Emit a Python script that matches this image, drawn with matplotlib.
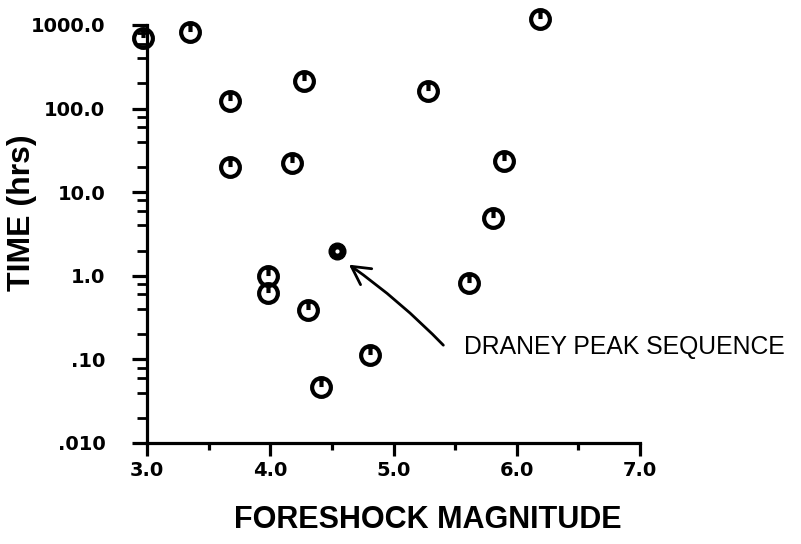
import matplotlib
matplotlib.use("Agg")
import matplotlib.pyplot as plt
from matplotlib.path import Path
from matplotlib.ticker import FixedLocator, NullFormatter

# ---- data ----
magnitude = [2.97, 3.35, 3.67, 3.67, 4.27, 4.18, 3.98, 3.98, 4.31,
             4.81, 4.41, 6.19, 5.28, 5.90, 5.81, 5.61]
time_hrs = [695, 830, 123, 20, 214, 22.4, 1.0, 0.62, 0.39,
            0.113, 0.047, 1180, 162, 23.6, 4.9, 0.82]
draney_mag = [4.54]
draney_time = [2.0]

x_ticks = [3.0, 4.0, 5.0, 6.0, 7.0]
x_ticklabels = ["3.0", "4.0", "5.0", "6.0", "7.0"]
x_minor = [3.5, 4.5, 5.5, 6.5]
y_ticks = [0.01, 0.1, 1.0, 10.0, 100.0, 1000.0]
y_ticklabels = [".010", ".10", "1.0", "10.0", "100.0", "1000.0"]
y_minor = [m * d for d in [0.01, 0.1, 1, 10, 100] for m in (2, 4, 6, 8)]

xlabel = "FORESHOCK MAGNITUDE"
ylabel = "TIME (hrs)"
annotation = "DRANEY PEAK SEQUENCE"

# ---- figure ----
fig = plt.figure(figsize=(8.01, 5.44), dpi=100)
L, R = 147 / 801, 640 / 801
B, T = 1 - 443 / 544, 1 - 25 / 544
ax = fig.add_axes([L, B, R - L, T - B])

ax.set_yscale("log")
ax.set_xlim(3.0, 7.0)
ax.set_ylim(0.01, 1000)

for s in ("top", "right"):
    ax.spines[s].set_visible(False)
for s in ("left", "bottom"):
    ax.spines[s].set_linewidth(2.3)

ax.xaxis.set_major_locator(FixedLocator(x_ticks))
ax.set_xticklabels(x_ticklabels)
ax.xaxis.set_minor_locator(FixedLocator(x_minor))
ax.yaxis.set_major_locator(FixedLocator(y_ticks))
ax.set_yticklabels(y_ticklabels)
ax.yaxis.set_minor_locator(FixedLocator(y_minor))
ax.yaxis.set_minor_formatter(NullFormatter())

ax.tick_params(axis="x", which="major", length=9, width=2.3, direction="out", pad=4)
ax.tick_params(axis="x", which="minor", length=5, width=2.3, direction="out")
ax.tick_params(axis="y", which="major", length=11, width=2.3, direction="out", pad=19)
ax.tick_params(axis="y", which="minor", length=7, width=2.0, direction="out")
for lab in ax.get_xticklabels() + ax.get_yticklabels():
    lab.set_fontfamily("DejaVu Sans")
    lab.set_fontweight("bold")
    lab.set_fontsize(14)

# marker: ring with a stem from the top into the centre
marker_path = Path.make_compound_path(
    Path.unit_circle(),
    Path([(0, 1.0), (0, 0.05)], [Path.MOVETO, Path.LINETO]),
)
ax.plot(magnitude, time_hrs, linestyle="none", marker=marker_path,
        markersize=13.5, markerfacecolor="none", markeredgecolor="black",
        markeredgewidth=3.0, clip_on=False, zorder=3)
ax.plot(draney_mag, draney_time, linestyle="none", marker="o",
        markersize=12, markerfacecolor="black", markeredgecolor="black",
        clip_on=False, zorder=3)
ax.plot(draney_mag, draney_time, linestyle="none", marker="o",
        markersize=2, markerfacecolor="white", markeredgecolor="white",
        clip_on=False, zorder=4)

# annotation
ax.annotate("", xy=(4.62, 1.42), xytext=(5.42, 0.14),
            arrowprops=dict(arrowstyle="->,head_length=1.3,head_width=0.7",
                            color="black", lw=2.0,
                            connectionstyle="arc3,rad=0.05"))
ax.text(5.57, 0.14, annotation, fontsize=17.8, family="Liberation Sans",
        va="center", ha="left", clip_on=False)

fig.text(428 / 801, 1 - 520 / 544, xlabel, fontsize=22, fontweight="bold",
         family="Liberation Sans", ha="center", va="center")
fig.text(22 / 801, 1 - 213 / 544, ylabel, fontsize=23, fontweight="bold",
         family="Liberation Sans", ha="center", va="center", rotation=90)

fig.savefig("out.png", dpi=100)
